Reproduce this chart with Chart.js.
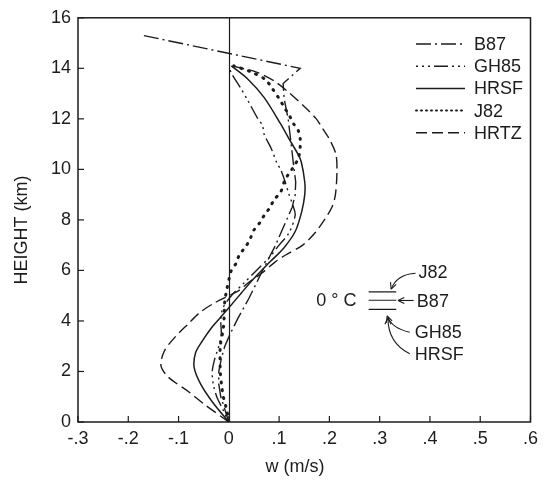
<!DOCTYPE html>
<html><head><meta charset="utf-8">
<script src="https://cdn.jsdelivr.net/npm/chart.js@4.4.0/dist/chart.umd.min.js"></script>
<style>html,body{margin:0;padding:0;background:#fff}#wrap{width:544px;height:480px}</style>
</head><body><div id="wrap"><canvas id="c" width="544" height="480"></canvas></div>
<script>
// ---- data (w in m/s, height in km) ----
const seriesNames = ['B87', 'GH85', 'HRSF', 'J82', 'HRTZ'];

const B87_Z = [0, 0.5, 1.0, 1.5, 2.0, 2.5, 3.0, 3.5, 4.1, 4.9, 5.5, 6.0, 6.5, 7.0, 7.6, 8.0, 8.5, 9.0, 9.5, 10.3, 11.0, 12.0, 12.8, 13.4, 14.0, 15.3];
const B87_W = [0, -0.008, -0.016, -0.02, -0.02, -0.015, -0.008, 0.003, 0.018, 0.04, 0.055, 0.067, 0.08, 0.093, 0.106, 0.115, 0.126, 0.132, 0.133, 0.128, 0.124, 0.118, 0.11, 0.108, 0.142, -0.17];

const GH85_Z = [0, 0.5, 1.0, 1.5, 2.0, 2.5, 3.0, 3.5, 4.0, 4.5, 5.0, 5.5, 6.0, 6.5, 7.0, 7.5, 8.2, 8.6, 9.05, 9.5, 10.0, 10.23, 10.8, 11.4, 11.74, 12.03, 12.72, 13.2, 13.77, 14.05];
const GH85_W = [0, -0.012, -0.024, -0.031, -0.033, -0.028, -0.02, -0.015, -0.016, -0.012, 0.005, 0.03, 0.055, 0.08, 0.1, 0.12, 0.132, 0.127, 0.119, 0.112, 0.103, 0.096, 0.085, 0.07, 0.067, 0.057, 0.038, 0.024, 0.006, 0];

const HRSF_Z = [0, 0.72, 1.5, 2.16, 2.75, 3.2, 3.74, 4.13, 4.52, 5.11, 5.64, 6.36, 6.88, 7.54, 8.33, 9.0, 9.5, 10.3, 10.62, 11.2, 11.8, 12.85, 13.57, 14.1];
const HRSF_W = [0, -0.03, -0.056, -0.069, -0.066, -0.053, -0.034, -0.017, 0, 0.025, 0.048, 0.083, 0.109, 0.132, 0.145, 0.151, 0.151, 0.144, 0.137, 0.12, 0.103, 0.07, 0.038, 0.005];

const J82_Z = [0, 0.46, 1.0, 1.4, 2.0, 3.0, 3.7, 4.3, 4.8, 5.25, 5.8, 6.0, 6.3, 6.62, 6.95, 7.28, 7.6, 7.9, 8.17, 8.5, 8.8, 9.1, 9.6, 9.9, 10.2, 10.5, 10.9, 11.2, 11.54, 11.8, 12.07, 12.5, 12.8, 13.18, 13.55, 13.85, 14.1];
const J82_W = [0, -0.004, -0.011, -0.014, -0.017, -0.017, -0.011, -0.009, -0.008, -0.004, 0.002, 0.005, 0.015, 0.021, 0.034, 0.043, 0.05, 0.062, 0.07, 0.082, 0.09, 0.103, 0.112, 0.122, 0.132, 0.139, 0.142, 0.142, 0.138, 0.129, 0.122, 0.109, 0.1, 0.087, 0.073, 0.045, 0.01];

const HRTZ_Z = [0, 0.72, 1.2, 1.77, 2.23, 2.82, 3.34, 3.9, 4.33, 4.72, 5.18, 5.5, 5.9, 6.3, 6.6, 7.0, 7.5, 8.0, 8.5, 9.0, 9.9, 10.6, 11.2, 11.6, 12.0, 12.45, 13.05, 13.5, 13.85, 14.1];
const HRTZ_W = [0, -0.05, -0.08, -0.12, -0.135, -0.128, -0.108, -0.08, -0.058, -0.028, 0.018, 0.038, 0.066, 0.09, 0.112, 0.147, 0.172, 0.19, 0.205, 0.212, 0.215, 0.213, 0.2, 0.187, 0.174, 0.152, 0.119, 0.09, 0.055, 0.005];

// 0 degC levels (km) and the w-span of their marker lines
const freezeLabels = ['J82', 'B87', 'GH85 / HRSF'];
const freezeLevels = [5.15, 4.82, 4.46];
const freezeSpanW = [0.278, 0.333];

const xTickValues = [-0.3, -0.2, -0.1, 0, 0.1, 0.2, 0.3, 0.4, 0.5, 0.6];
const xTickLabels = ['-.3', '-.2', '-.1', '0', '.1', '.2', '.3', '.4', '.5', '.6'];
const yTickValues = [0, 2, 4, 6, 8, 10, 12, 14, 16];
const yTickLabels = ['0', '2', '4', '6', '8', '10', '12', '14', '16'];
const xTitle = 'w (m/s)';
const yTitle = 'HEIGHT (km)';
const freezeText = '0 ° C';

// ---- styling ----
const INK = '#1c1c1c';
const FONT = '"Liberation Sans", Arial, sans-serif';
const styles = {
  B87:  {dash: [15, 4, 2, 4], width: 1.4, tension: 0},
  GH85: {dash: [2, 4, 2, 4, 2, 4, 14, 4], width: 1.4, tension: 0.3},
  HRSF: {dash: [], width: 1.5, tension: 0.3},
  J82:  {dash: [1, 7], width: 3, tension: 0.3, cap: 'round'},
  HRTZ: {dash: [11, 5], width: 1.4, tension: 0.3}
};
const seriesData = {
  B87: [B87_W, B87_Z], GH85: [GH85_W, GH85_Z], HRSF: [HRSF_W, HRSF_Z],
  J82: [J82_W, J82_Z], HRTZ: [HRTZ_W, HRTZ_Z]
};

const datasets = seriesNames.map(name => {
  const [w, z] = seriesData[name];
  const s = styles[name];
  return {
    label: name,
    data: z.map((h, i) => ({x: w[i], y: h})),
    showLine: true, pointRadius: 0, fill: false,
    borderColor: INK, borderWidth: s.width, borderDash: s.dash,
    borderCapStyle: s.cap || 'butt', tension: s.tension
  };
});
freezeLevels.forEach((lvl, i) => {
  datasets.push({
    label: '0C ' + freezeLabels[i],
    data: freezeSpanW.map(w => ({x: w, y: lvl})),
    showLine: true, pointRadius: 0, fill: false,
    borderColor: INK, borderWidth: 1.2, tension: 0
  });
});

function arrowHead(ctx, x0, y0, x1, y1, size) {
  const a = Math.atan2(y1 - y0, x1 - x0);
  ctx.beginPath();
  ctx.moveTo(x1, y1);
  ctx.lineTo(x1 - size * Math.cos(a - 0.45), y1 - size * Math.sin(a - 0.45));
  ctx.moveTo(x1, y1);
  ctx.lineTo(x1 - size * Math.cos(a + 0.45), y1 - size * Math.sin(a + 0.45));
  ctx.stroke();
}

const decor = {
  id: 'decor',
  beforeDatasetsDraw(chart) {
    const {ctx, chartArea: a, scales: {x, y}} = chart;
    ctx.save();
    ctx.strokeStyle = INK;
    ctx.lineWidth = 1.5;
    ctx.setLineDash([]);
    ctx.strokeRect(a.left, a.top, a.right - a.left, a.bottom - a.top);
    // zero line
    ctx.lineWidth = 1.2;
    const x0 = Math.round(x.getPixelForValue(0)) + 0.5;
    ctx.beginPath(); ctx.moveTo(x0, a.top); ctx.lineTo(x0, a.bottom); ctx.stroke();
    // inward tick marks
    ctx.lineWidth = 1.2;
    xTickValues.forEach(v => {
      const px = x.getPixelForValue(v);
      ctx.beginPath(); ctx.moveTo(px, a.bottom); ctx.lineTo(px, a.bottom - 6); ctx.stroke();
    });
    yTickValues.forEach(v => {
      const py = y.getPixelForValue(v);
      ctx.beginPath(); ctx.moveTo(a.left, py); ctx.lineTo(a.left + 6, py); ctx.stroke();
    });
    ctx.restore();
  },
  afterDatasetsDraw(chart) {
    const {ctx, chartArea: a, scales: {x, y}} = chart;
    const P = (wv, hv) => [x.getPixelForValue(wv), y.getPixelForValue(hv)];
    ctx.save();
    ctx.fillStyle = INK; ctx.strokeStyle = INK;
    // legend
    ctx.font = '18px ' + FONT;
    ctx.textBaseline = 'middle'; ctx.textAlign = 'left';
    seriesNames.forEach((name, i) => {
      const s = styles[name];
      const ly = 44 + i * 22.2;
      ctx.lineWidth = name === 'J82' ? 2 : s.width;
      ctx.lineCap = s.cap || 'butt';
      ctx.setLineDash(name === 'J82' ? [1, 4] : s.dash);
      ctx.beginPath(); ctx.moveTo(416, ly); ctx.lineTo(465, ly); ctx.stroke();
      ctx.setLineDash([]);
      ctx.fillText(name, 474, ly + 1);
    });
    ctx.lineCap = 'butt';
    // freezing level annotation
    ctx.font = '18px ' + FONT;
    ctx.textAlign = 'right';
    let p = P(0.254, freezeLevels[1]);
    ctx.fillText(freezeText, p[0], p[1] + 1);
    ctx.textAlign = 'left';
    const labs = [['J82', 0.377, 5.93], ['B87', 0.374, 4.8], ['GH85', 0.37, 3.57], ['HRSF', 0.37, 2.7]];
    labs.forEach(([t, wv, hv]) => { const q = P(wv, hv); ctx.fillText(t, q[0], q[1] + 1); });
    ctx.lineWidth = 1.1;
    const curves = [
      [[0.3715, 5.89], [0.334, 5.85], [0.3228, 5.26]],
      [[0.3676, 4.81], [0.352, 4.81], [0.3365, 4.81]],
      [[0.3598, 3.55], [0.323, 3.72], [0.315, 4.2]],
      [[0.3598, 2.70], [0.316, 3.15], [0.3166, 4.12]]
    ];
    curves.forEach(([s0, c, e]) => {
      const A = P(...s0), C = P(...c), E = P(...e);
      ctx.beginPath(); ctx.moveTo(...A); ctx.quadraticCurveTo(...C, ...E); ctx.stroke();
      arrowHead(ctx, C[0], C[1], E[0], E[1], 7);
    });
    // axis titles
    ctx.font = '18px ' + FONT;
    ctx.textAlign = 'center'; ctx.textBaseline = 'middle';
    ctx.fillText(xTitle, 295, 467);
    ctx.save();
    ctx.translate(22, 230); ctx.rotate(-Math.PI / 2);
    ctx.fillText(yTitle, 0, 0);
    ctx.restore();
    ctx.restore();
  }
};

new Chart(document.getElementById('c'), {
  type: 'scatter',
  data: {datasets},
  options: {
    responsive: false, animation: false, devicePixelRatio: 1, events: [],
    layout: {padding: {top: 15, right: 3, left: 0, bottom: 0}},
    plugins: {legend: {display: false}, tooltip: {enabled: false}},
    scales: {
      x: {
        type: 'linear', min: -0.3, max: 0.6,
        afterBuildTicks: s => { s.ticks = xTickValues.map(v => ({value: v})); },
        afterFit: s => { s.height = 58; },
        grid: {display: false, drawTicks: false}, border: {display: false},
        ticks: {
          padding: 6, color: INK, font: {family: FONT, size: 18}, maxRotation: 0, autoSkip: false,
          callback: v => { const i = xTickValues.findIndex(t => Math.abs(t - v) < 1e-6); return i >= 0 ? xTickLabels[i] : ''; }
        }
      },
      y: {
        type: 'linear', min: 0, max: 16,
        afterBuildTicks: s => { s.ticks = yTickValues.map(v => ({value: v})); },
        afterFit: s => { s.width = 78; },
        grid: {display: false, drawTicks: false}, border: {display: false},
        ticks: {
          padding: 7, color: INK, font: {family: FONT, size: 18}, autoSkip: false,
          callback: v => { const i = yTickValues.indexOf(v); return i >= 0 ? yTickLabels[i] : ''; }
        }
      }
    }
  },
  plugins: [decor]
});
</script></body></html>
